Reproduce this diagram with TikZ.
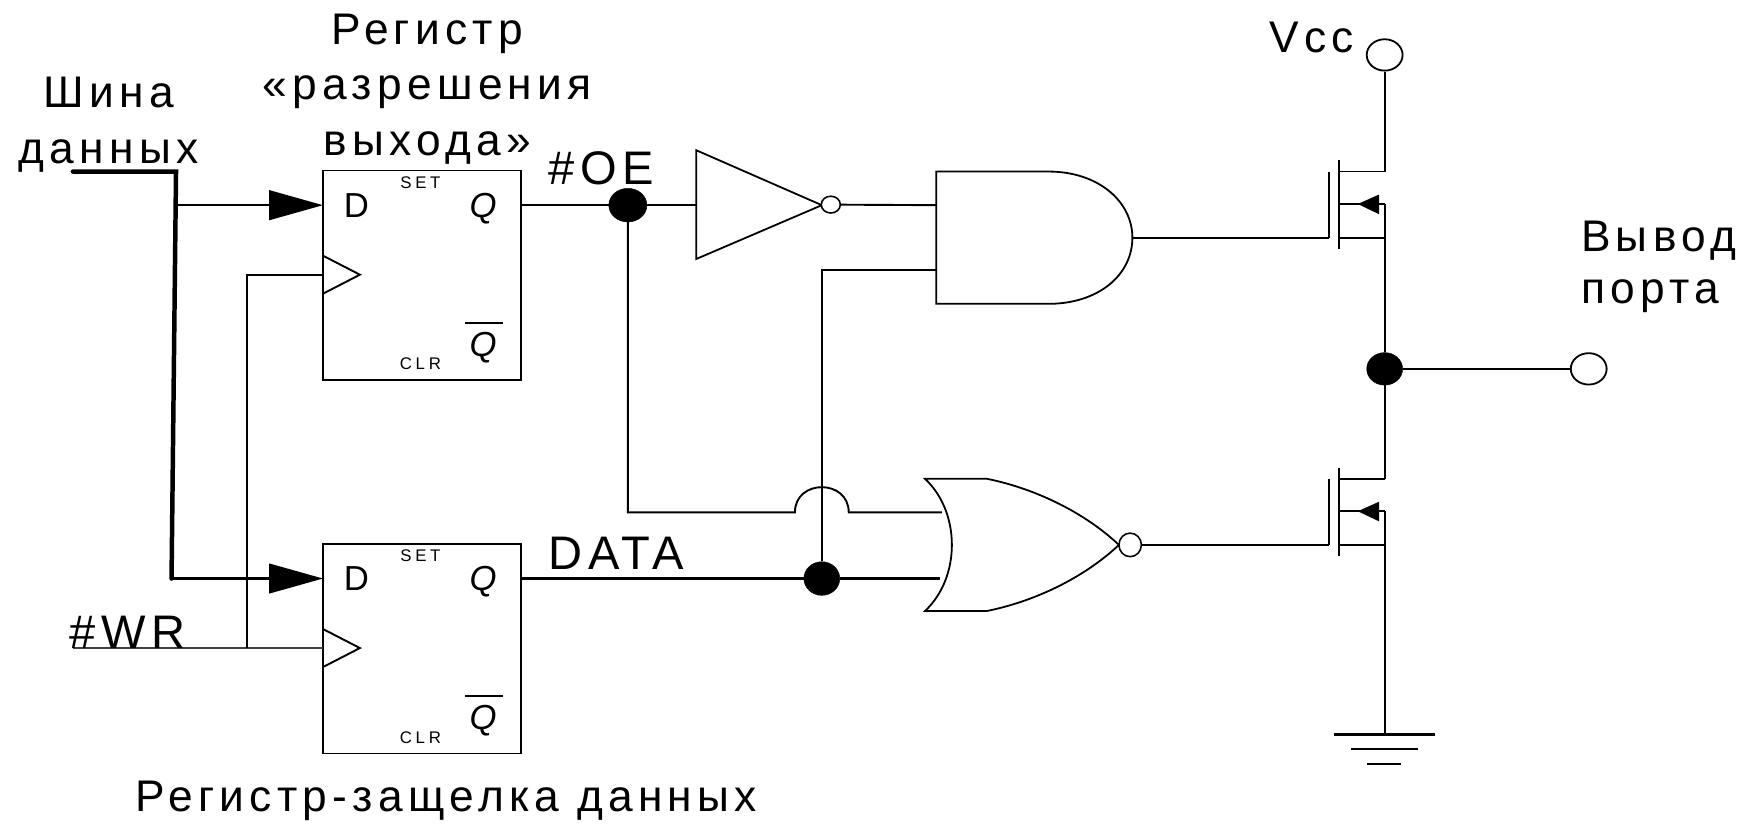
\documentclass[tikz,border=0pt]{standalone}
\usepackage{fontspec}
\setmainfont{Liberation Sans}
\newfontfamily\lbl[LetterSpace=12]{Liberation Sans}
\newfontfamily\smalllbl[LetterSpace=22]{Liberation Sans}
\usetikzlibrary{shapes.geometric,calc}
\begin{document}
\begin{tikzpicture}[x=1pt,y=-1pt,
  wire/.style={line width=1.7pt,line join=miter},
  bus/.style={line width=4pt,line join=miter,line cap=round},
  ff/.style={draw,line width=1.6pt,rectangle,minimum width=177pt,minimum height=187pt,inner sep=0pt},
  dot/.style={ellipse,fill=black,draw=black,inner sep=0pt,minimum width=32pt,minimum height=29pt},
  port/.style={ellipse,fill=white,draw=black,line width=1.6pt,inner sep=0pt,minimum width=32pt,minimum height=28pt},
  bubble/.style={ellipse,fill=white,draw=black,line width=1.4pt,inner sep=0pt},
  txt/.style={inner sep=0pt,font=\lbl\fontsize{39.5}{39.5}\selectfont,anchor=base},
  txtl/.style={txt,anchor=base west},
  txtb/.style={txtl,font=\lbl\fontsize{42}{42}\selectfont},
  pin/.style={inner sep=0pt,font=\fontsize{31}{31}\selectfont,anchor=base},
  pini/.style={pin,font=\itshape\fontsize{31}{31}\selectfont},
  small/.style={inner sep=0pt,font=\smalllbl\fontsize{15}{15}\selectfont,anchor=base},
  gate/.style={draw,line width=1.6pt,fill=white,line join=miter}
]
\useasboundingbox (0,0) rectangle (1568,739);
% registers
\node[ff] (ffa) at (376.5,245.5) {};
\node[ff] (ffb) at (376.5,578.5) {};
\foreach \f/\y in {ffa/183,ffb/516}{
  \node[pin] (\f d) at (318,\y+11) {D};
  \node[pini] (\f q) at (431,\y+11) {Q};
  \node[pini] (\f n) at (431,\y+135) {Q};
  \coordinate (\f o1) at (415,\y+105);
  \coordinate (\f o2) at (449,\y+105);
  \draw[line width=1.8pt] (\f o1) -- (\f o2);
  \node[small] (\f s) at (375,\y-15) {SET};
  \node[small] (\f c) at (375,\y+147) {CLR};
  \coordinate (\f k1) at (288,\y+45);
  \coordinate (\f k2) at (321,\y+62);
  \coordinate (\f k3) at (288,\y+79);
  \draw[wire,line join=miter] (\f k1) -- (\f k2) -- (\f k3);
  \coordinate (\f a1) at (240,\y-13.5);
  \coordinate (\f a2) at (288,\y);
  \coordinate (\f a3) at (240,\y+13.5);
  \fill (\f a1) -- (\f a2) -- (\f a3) -- cycle;
}
% bus
\coordinate (b0) at (65,153);
\coordinate (b1) at (157,153);
\coordinate (b2) at (153,516);
\coordinate (b1t) at (157,183);
\draw[bus] (b0) -- (b1) -- (b2);
\draw[wire] (b1t) -- (ffaa1 |- ffaa2);
\draw[wire,line width=2.4pt] (b2) -- (ffba1 |- ffba2);
% clock
\coordinate (wr0) at (65,578);
\coordinate (wrj) at (220,578);
\coordinate (wrt) at (220,245);
\draw[wire,line width=2.2pt,draw=black!75] (wr0) -- (wrj) -- (288,578);
\draw[wire] (wrj) -- (wrt) -- (288,245);
% junctions and ports
\node[dot,minimum width=34pt,minimum height=30pt] (j1) at (560,183) {};
\node[dot,minimum width=32pt,minimum height=30pt] (j2) at (733,516) {};
\node[dot] (j3) at (1235,329) {};
\node[port] (vcc) at (1235,49) {};
\node[port] (out) at (1417,329) {};
% inverter
\coordinate (i1) at (621,134);
\coordinate (i2) at (733,183);
\coordinate (i3) at (621,231);
\coordinate (iin) at (621,183);
\draw[gate] (i1) -- (i2) -- (i3) -- cycle;
\node[bubble,minimum width=17pt,minimum height=15pt] (ib) at (741,182.5) {};
% AND
\coordinate (a1) at (835,153);
\coordinate (a2) at (835,271);
\coordinate (a3) at (1010,212);
\coordinate (ai1) at (835,183);
\coordinate (ai2) at (835,241);
\draw[gate] (a1) -- (935,153) .. controls (980,153) and (1010,180) .. (a3) .. controls (1010,245) and (980,271) .. (935,271) -- (a2) -- cycle;
% NOR
\coordinate (n1) at (825,427);
\coordinate (n2) at (825,545);
\coordinate (n3) at (998,486);
\coordinate (ni1) at (840,457);
\coordinate (ni2) at (838,516);
\draw[gate] (n1) -- (880,427) .. controls (920,435) and (965,455) .. (n3) .. controls (965,517) and (920,537) .. (880,545) -- (n2) .. controls (857,515) and (857,457) .. cycle;
\node[bubble,minimum width=20pt,minimum height=21pt] (nb) at (1008,486) {};
% wires
\draw[wire] (ffa.east |- j1) -- (j1) -- (iin);
\draw[wire] (ib) -- (ai1);
\coordinate (h1) at (709,457);
\coordinate (h2) at (757,457);
\draw[wire] (j1) -- (j1 |- h1) -- (h1) .. controls (709,427) and (757,427) .. (h2) -- (ni1);
\draw[wire,line width=2.1pt] (ffb.east |- j2) -- (j2) -- (ni2);
\draw[wire] (j2) -- (j2 |- ai2) -- (ai2);
\coordinate (g1) at (1185,212);
\coordinate (g2) at (1185,486);
\draw[wire] (a3) -- (g1);
\draw[wire] (nb) -- (g2);
% transistors
\foreach \n/\o in {t/0,u/274}{
  \coordinate (\n g1) at (1185,153+\o);
  \coordinate (\n g2) at (1185,212+\o);
  \coordinate (\n c1) at (1194,143+\o);
  \coordinate (\n c2) at (1194,222+\o);
  \coordinate (\n d) at (1235,153+\o);
  \coordinate (\n s) at (1235,182+\o);
  \coordinate (\n b) at (1235,212+\o);
  \draw[wire] (\n g1) -- (\n g2);
  \draw[wire] (\n c1) -- (\n c2);
  \draw[wire] (\n c1 |- \n d) -- (\n d);
  \draw[wire] (\n c1 |- \n s) -- (\n s);
  \draw[wire] (\n c1 |- \n b) -- (\n b);
  \coordinate (\n p1) at (1230,173.5+\o);
  \coordinate (\n p2) at (1211,182+\o);
  \coordinate (\n p3) at (1230,191+\o);
  \fill (\n p1) -- (\n p2) -- (\n p3) -- cycle;
}
\coordinate (gnd) at (1235,655);
\draw[wire] (vcc) -- (td);
\draw[wire] (ts) -- (j3) -- (ud);
\draw[wire] (us) -- (gnd);
\draw[wire] (j3) -- (out);
\coordinate (g11) at (1190,655);\coordinate (g12) at (1280,655);
\coordinate (g21) at (1205,668);\coordinate (g22) at (1265,668);
\coordinate (g31) at (1219,681);\coordinate (g32) at (1250,681);
\draw[line width=2pt] (g11) -- (g12);
\draw[line width=1.8pt] (g21) -- (g22);
\draw[line width=1.8pt] (g31) -- (g32);
% labels
\node[txt] (l1) at (97,96) {Шина};
\node[txt] (l2) at (97,146) {данных};
\node[txt] (l3) at (381,40) {Регистр};
\node[txt] (l4) at (381,89) {«разрешения};
\node[txt] (l5) at (381,139) {выхода»};
\node[txtb] (l6) at (489,165) {\#OE};
\node[txtb] (l7) at (489,508) {DATA};
\node[txtb] (l8) at (62,578) {\#WR};
\node[txtl] (l9) at (1132,47) {Vcc};
\node[txtl] (l10) at (1410,224) {Вывод};
\node[txtl] (l11) at (1410,271) {порта};
\node[txt] (l12) at (398,724) {Регистр-защелка данных};
\end{tikzpicture}
\end{document}
